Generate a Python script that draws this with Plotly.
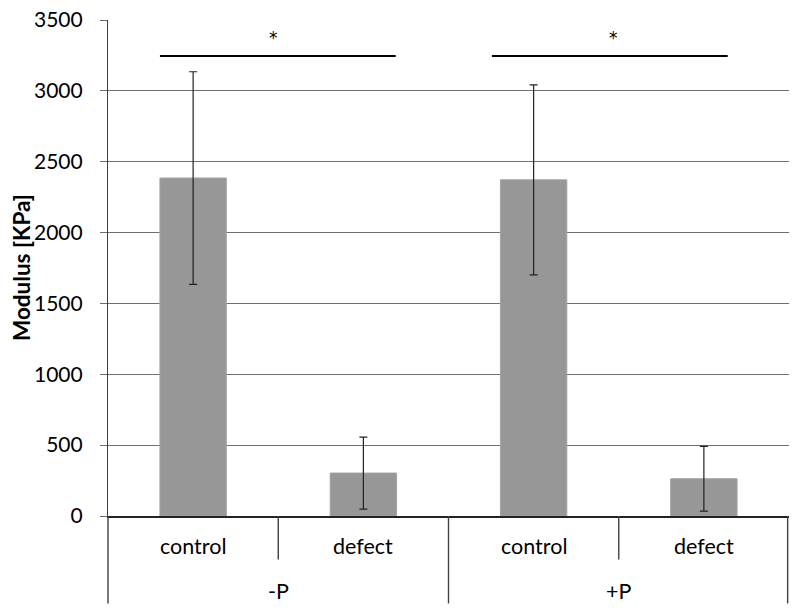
import plotly.graph_objects as go

# ---- data ----
categories = ["control", "defect", "control", "defect"]
groups = ["-P", "+P"]
modulus = [2385, 303, 2372, 263]
modulus_err = [750, 254, 670, 228]
sig_pairs = [(0, 1), (2, 3)]
sig_level = 3246
sig_labels = ["*", "*"]
y_ticks = [0, 500, 1000, 1500, 2000, 2500, 3000, 3500]

FONT = "Lato, Carlito, 'Liberation Sans', sans-serif"
x_pos = list(range(len(categories)))

fig = go.Figure()
fig.add_trace(go.Bar(
    x=x_pos, y=modulus, width=0.39,
    marker=dict(color="#979797", line=dict(color="#a3a3a3", width=1)),
    error_y=dict(type="data", array=modulus_err, visible=True,
                 color="#222222", thickness=1.2, width=4),
    showlegend=False,
))

shapes = []
annotations = []
# significance bars
for (a, b), lab in zip(sig_pairs, sig_labels):
    x0 = a - 0.195 if a == 0 else a - 0.245
    x1 = b + 0.19 if a == 0 else b + 0.14
    shapes.append(dict(type="line", xref="x", yref="y", x0=x0, x1=x1,
                       y0=sig_level, y1=sig_level,
                       line=dict(color="#000000", width=2)))
    annotations.append(dict(x=(a + b) / 2 - 0.03, y=3370, xref="x", yref="y",
                            text=lab, showarrow=False, yanchor="middle",
                            font=dict(family="DejaVu Sans", size=17, color="#000")))

# category axis separators (Excel-style multi-level axis), in paper coords
short_y = -(559 - 515.6) / 495.6
long_y = -(603 - 515.6) / 495.6
n_cat = len(categories)
for k in range(n_cat + 1):
    xs = k / n_cat if k < n_cat else 0.998
    yb = long_y if k % 2 == 0 else short_y
    shapes.append(dict(type="line", xref="paper", yref="paper", x0=xs, x1=xs,
                       y0=0, y1=yb, line=dict(color="#404040", width=1.4)))

# category labels
for i, c in enumerate(categories):
    annotations.append(dict(x=i, y=-(546 - 515.6) / 495.6, xref="x", yref="paper",
                            text=c, showarrow=False, yanchor="middle",
                            font=dict(family=FONT, size=21.5, color="#000")))
for j, g in enumerate(groups):
    annotations.append(dict(x=2 * j + 0.5, y=-(591 - 515.6) / 495.6, xref="x", yref="paper",
                            text=g, showarrow=False, yanchor="middle",
                            font=dict(family=FONT, size=21.5, color="#000")))

# y-axis title
annotations.append(dict(x=(21 - 108) / 681, y=0.5, xref="paper", yref="paper",
                        text="<b>Modulus [KPa]</b>", textangle=-90, showarrow=False,
                        xanchor="center", yanchor="middle",
                        font=dict(family=FONT, size=22.5, color="#000")))

fig.update_layout(
    width=800, height=616,
    margin=dict(l=108, r=11, t=20, b=100, autoexpand=False),
    paper_bgcolor="white", plot_bgcolor="white",
    shapes=shapes, annotations=annotations,
    xaxis=dict(range=[-0.5, 3.5], showticklabels=False, ticks="",
               showgrid=False, zeroline=False, automargin=False,
               showline=True, linecolor="#222222", linewidth=1.5),
    yaxis=dict(range=[0, 3500], tickvals=y_ticks, ticktext=[str(v) for v in y_ticks],
               showgrid=True, gridcolor="#6e6e6e", gridwidth=1,
               ticks="outside", ticklen=7, tickcolor="#6e6e6e",
               ticklabelstandoff=13, automargin=False,
               showline=True, linecolor="#404040", linewidth=1.2,
               zeroline=False,
               tickfont=dict(family=FONT, size=21, color="#000")),
)

fig.write_html(
    "out.html",
    config={"displayModeBar": False},
    post_script="document.body.style.margin='0';document.body.style.overflow='hidden';",
)
